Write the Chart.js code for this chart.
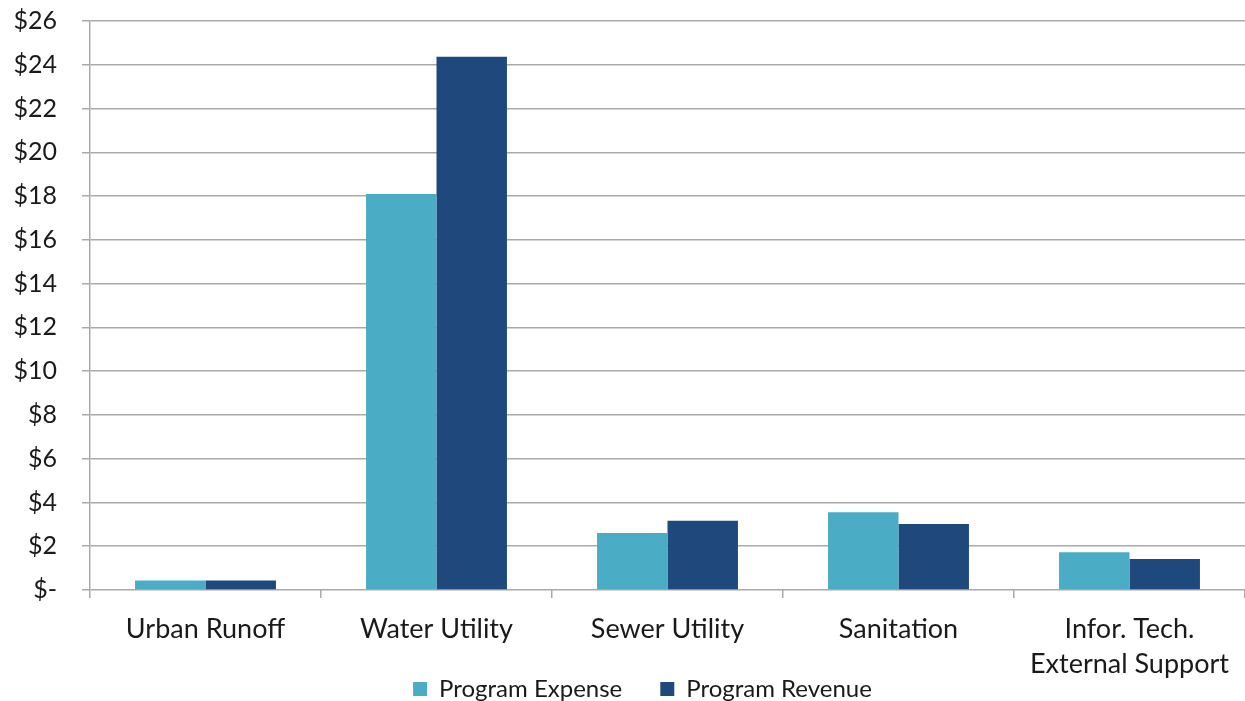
<!DOCTYPE html>
<html>
<head>
<meta charset="utf-8">
<script src="https://cdn.jsdelivr.net/npm/chart.js@4/dist/chart.umd.min.js"></script>
<style>
  html, body { margin: 0; padding: 0; background: #fff; }
  #wrap { width: 1245px; height: 701px; position: relative; }
</style>
</head>
<body>
<div id="wrap"><canvas id="c" width="1245" height="701"></canvas></div>
<script>
// Program categories (multi-line labels as arrays)
const categories = [
  'Urban Runoff',
  'Water Utility',
  'Sewer Utility',
  'Sanitation',
  ['Infor. Tech.', 'External Support']
];

// Values in $ millions
const programExpense = [0.43, 18.1, 2.6, 3.55, 1.72];
const programRevenue = [0.43, 24.37, 3.17, 3.02, 1.42];

const seriesNames = ['Program Expense', 'Program Revenue'];

const FONT = 'Lato, "Open Sans", sans-serif';
const TEXT = '#1a1a1a';
const GRID = '#aaaaaa';

// Let tick labels draw outside their own scale box.
const noLabelClip = (s) => { s._computeLabelArea = () => undefined; };

new Chart(document.getElementById('c'), {
  type: 'bar',
  data: {
    labels: categories,
    datasets: [
      {
        label: seriesNames[0],
        data: programExpense,
        backgroundColor: '#4BACC6',
        categoryPercentage: 0.61,
        barPercentage: 1.0
      },
      {
        label: seriesNames[1],
        data: programRevenue,
        backgroundColor: '#1F497D',
        categoryPercentage: 0.61,
        barPercentage: 1.0
      }
    ]
  },
  options: {
    responsive: false,
    animation: false,
    layout: { padding: { top: 21, right: 0, left: 40, bottom: -10 } },
    plugins: {
      legend: {
        position: 'bottom',
        labels: {
          font: { family: FONT, size: 24 },
          color: TEXT,
          boxWidth: 14,
          boxHeight: 14,
          padding: 38
        }
      },
      tooltip: { enabled: false }
    },
    scales: {
      x: {
        grid: {
          offset: true,
          drawOnChartArea: false,
          drawTicks: true,
          tickLength: 8,
          color: GRID,
          lineWidth: 1.5
        },
        border: { display: false },
        ticks: {
          font: { family: FONT, size: 27, lineHeight: 1.3 },
          color: TEXT,
          padding: 14,
          maxRotation: 0
        },
        afterFit: (s) => { s.height = 49; noLabelClip(s); }
      },
      y: {
        min: 0,
        max: 26,
        grid: {
          color: GRID,
          lineWidth: 1.5,
          tickLength: 8
        },
        border: { display: true, color: GRID, width: 1.5 },
        ticks: {
          stepSize: 2,
          font: { family: FONT, size: 25 },
          color: TEXT,
          padding: 25,
          callback: (v) => v === 0 ? '$-' : '$' + v
        },
        afterFit: (s) => {
          s.width = 50;
          s.paddingTop = 0;
          s.paddingBottom = 0;
          noLabelClip(s);
        }
      }
    }
  }
});
</script>
</body>
</html>
